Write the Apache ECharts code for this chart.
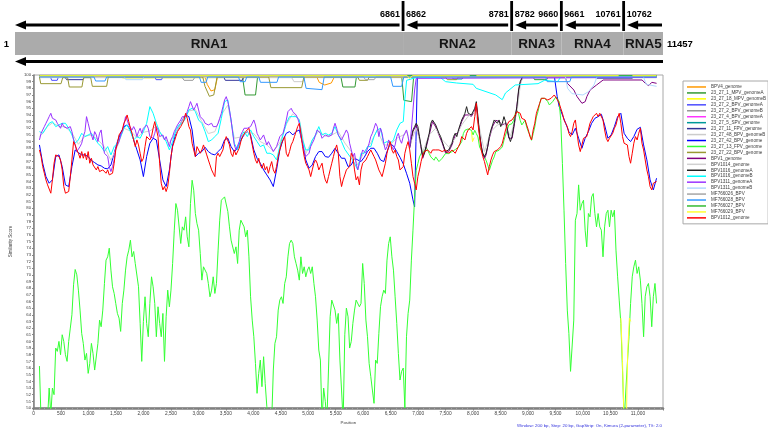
<!DOCTYPE html>
<html><head><meta charset="utf-8">
<script src="https://cdn.jsdelivr.net/npm/echarts@6/dist/echarts.min.js"></script>
<style>html,body{margin:0;padding:0;background:#fff}#c{width:768px;height:433px}</style>
</head><body><div id="c"></div>
<script>
const FONT = '"Liberation Sans", Arial, sans-serif';

// genome map
const segStart = [1, 6862, 8782, 9661, 10762];
const segEnd = [6861, 8781, 9660, 10761, 11457];
const segName = ['RNA1', 'RNA2', 'RNA3', 'RNA4', 'RNA5'];
const genomeLength = 11457;

// sampling positions (bp) of the similarity curves
const positions = [
107,137,166,196,225,255,284,314,343,373,403,432,462,491,521,550,580,610,639,669,
698,728,757,787,816,846,876,905,935,964,994,1023,1053,1082,1112,1142,1171,1201,1230,1260,
1290,1319,1349,1378,1408,1437,1467,1496,1526,1556,1585,1615,1644,1674,1703,1733,1763,1792,1822,1851,
1881,1910,1940,1969,1999,2029,2058,2088,2117,2147,2176,2206,2235,2265,2295,2324,2354,2383,2413,2442,
2472,2501,2531,2561,2590,2620,2649,2679,2708,2738,2768,2797,2827,2856,2886,2915,2945,2974,3004,3034,
3063,3093,3122,3152,3181,3211,3241,3270,3300,3329,3359,3388,3418,3447,3477,3507,3536,3566,3595,3625,
3654,3684,3714,3743,3773,3802,3832,3861,3891,3920,3950,3980,4009,4039,4068,4098,4127,4157,4187,4216,
4246,4275,4305,4334,4364,4393,4423,4453,4482,4512,4541,4571,4600,4630,4659,4689,4719,4748,4778,4807,
4837,4866,4896,4926,4955,4985,5014,5044,5073,5103,5132,5162,5192,5221,5251,5280,5310,5339,5369,5398,
5428,5458,5487,5517,5546,5576,5606,5635,5665,5694,5724,5753,5783,5812,5842,5871,5901,5931,5960,5990,
6019,6049,6078,6108,6138,6167,6197,6226,6256,6285,6315,6344,6374,6404,6433,6463,6492,6522,6551,6581,
6611,6640,6670,6699,6729,6758,6788,6817,6847,6877,6906,6936,6965,6995,7024,7054,7084,7113,7143,7172,
7202,7231,7261,7290,7320,7350,7379,7409,7438,7468,7497,7527,7556,7586,7616,7645,7675,7704,7734,7763,
7793,7823,7852,7882,7911,7941,7970,8000,8030,8059,8089,8118,8148,8177,8207,8236,8266,8296,8325,8355,
8384,8414,8443,8473,8503,8532,8562,8591,8621,8650,8680,8709,8739,8768,8798,8828,8857,8887,8916,8946,
8975,9005,9035,9064,9094,9123,9153,9182,9212,9242,9271,9301,9330,9360,9389,9419,9448,9478,9508,9537,
9567,9596,9626,9655,9685,9715,9744,9774,9803,9833,9862,9892,9921,9951,9981,10010,10040,10069,10099,10128,
10158,10187,10217,10247,10276,10306,10335,10365,10394,10424,10454,10483,10513,10542,10572,10601,10631,10660,10690,10720,
10749,10779,10808,10838,10867,10897,10926,10956,10986,11015,11045,11074,11104,11133,11163,11192,11222,11252,11281,11311,
11340];

// BPV1012_genome (red)
const redA = [
88.75,87.75,86.25,85.25,84.25,83.5,83.25,82.25,84.25,86.75,
88.0,88.0,87.75,87.25,85.75,83.25,82.25,82.0,82.5,84.75,
87.25,90.0,89.5,88.75,88.25,87.5,88.5,87.5,88.25,87.25,
88.5,86.75,87.5,86.5,86.75,85.75,86.25,85.5,85.25,85.75,
85.5,85.25,85.75,85.0,84.75,85.25,86.75,88.75,89.75,91.0,
91.25,91.75,92.75,93.25,94.0,93.0,92.0,91.25,90.25,89.25,
90.25,89.5,88.25,87.0,87.5,89.25,90.75,91.0,90.25,90.75,
92.0,93.0,93.25,90.75,86.75,83.75,82.75,83.25,82.5,83.25,
85.25,87.75,89.25,90.0,90.75,91.5,91.75,92.25,92.5,93.25,
94.25,93.5,92.25,91.75,89.75,88.75,87.75,89.25,89.0,88.25,
88.75,89.5,88.75,88.0,87.25,86.5,85.75,85.25,84.75,87.75,
88.25,87.75,88.0,88.75,90.0,90.75,90.5,89.5,88.25,87.75,
88.75,88.0,88.25,89.0,90.0,90.75,91.0,91.5,91.75,92.0,
90.75,89.5,88.25,87.25,86.75,87.5,86.5,86.0,86.75,85.75,
86.25,85.25,86.25,87.0,85.75,85.25,86.25,87.75,88.75,89.75,
90.25,90.75,88.25,87.75,88.5,89.5,90.0,90.75,91.5,92.25,
92.75,91.25,89.25,87.75,86.75,86.25,85.75,84.75,85.75,86.75,
87.25,86.75,85.75,86.25,86.75,85.25,84.25,83.75,84.75,85.75,
86.75,87.75,88.75,89.5,88.25,84.75,83.25,84.25];
const redB = [
85.0,85.75,86.0,86.25,88.25,87.75,85.75,84.25,84.75,83.5,
85.75,86.75,86.5,87.25,87.75,88.25,88.75,88.5,87.75,87.25,
87.25,85.75,85.25,84.75,84.5,86.75,88.25,89.25,90.0,88.75,
88.25,88.75,87.75,87.25,85.75,85.5,86.25,88.25,89.25,90.0,
88.75,86.75,84.75,83.75,82.75,84.75,85.75,87.0,88.0,88.5,
88.25,88.75,88.5,88.25,88.75,88.5,88.75,88.5,88.75,89.0,
88.5,88.25,88.75,88.5,88.25,88.5,88.75,88.5,88.25,88.75,
89.25,89.75,90.75,91.0,90.25,91.25,91.75,92.0,92.25,91.75,
93.75,95.75,92.75,90.75,88.75,87.75,87.0,86.0,85.0,86.25,
87.25,88.0,88.5,88.75,88.75,89.0,89.25,89.75,90.75,91.75,
92.5,93.0,93.25,93.25,93.5,94.0,94.5,94.75,94.25,93.5,
93.25,93.25,92.5,91.75,90.75,90.25,91.75,92.75,94.25,95.0,
95.75,96.5,96.75,96.5,96.75,96.25,96.0,96.5,96.75,97.0,
96.75,96.25,95.75,95.0,94.25,93.25,92.75,92.25,91.25,90.75,
91.5,92.75,93.25,91.25,89.5,88.5,89.5,90.5,90.25,90.75,
91.75,92.75,93.25,93.75,94.0,94.25,93.75,94.25,94.5,93.25,
91.75,90.5,90.0,90.5,90.75,91.25,92.0,92.5,93.5,94.25,
92.75,90.75,89.75,90.0,89.5,87.75,86.75,88.25,89.75,90.75,
90.25,91.25,92.0,89.75,88.75,87.25,85.75,84.75,83.25,82.75,
83.75,83.5,84.0];

// 23_27_13_FPV_genome (bright green)
const greenA = [
56.3,48,48,48,48,48.5,53,49,53,52,
59,58.5,60,58,61,60,58,57,60,62,
64,68.5,70.8,70,67.7,64.7,61.2,59.7,57.2,58.2,
55.2,56.7,59.7,58.2,55.7,55.7,59.7,63.2,62.2,64.7,
68.7,72.2,72.7,74,70.7,68.2,67.2,65.7,64.2,63.5,
61.5,65.7,67.7,70.7,72.7,73.7,75.2,72.7,73.5,71.7,
71.5,68.2,62.7,57,63,66.7,62.7,60.7,65.7,69.7,
68.2,65.7,60.7,65.2,62.7,60.7,64.2,57,63.7,67.7,
65.2,67.7,71.7,76.7,80.7,79.7,79.7,74.7,77.2,76.7,
78.7,75.7,74.2,80.7,84.2,82.7,79.2,77.7,76.7,73.2,
69.2,71.2,71.2,70.2,68.7,66.7,67.7,69.7,67.2,68.7,
73.7,78.2,81.2,81.5,81.7,81.5,79.5,77.2,75.2,75.2,
73.2,74.2,71.7,76.7,78.2,78.5,77.2,75.7,76.7,72.7,
66.7,63.2,60.7,56.7,52.2,55.2,57.2,53.2,57.7,53.7,
50.2,48,49.7,48,55.7,59.7,60.7,64.7,66.2,66.7,
65.7,68.7,69.7,72.7,74.7,75.2,74.7,72.7,71.7,70.7,
69.2,72.7,70.2,71.2,69.7,70.7,71.2,70.2,71.2,68.7,
66.7,63.2,58.7,57.2,48,53,51,48,56,63.7,
66.2,66.2,64.7,62.7,64.2,57.2,52.7,48];
const greenB = [
61,65,63.7,59,60,62.7,64.7,66.2,66.2,65.2,
65.7,71.7,68.7,63.2,60.7,56.7,54.7,52.7,50.7,57.2,
56.7,61.2,65.2,66.7,67.7,67.2,72.2,74.7,75.7,72.7,
70.7,66.7,62.7,58.2,54.2,55.5,56,50,60.7,64.2,
66.2,72.2,76.7,81.7,85.7,86.7,87.7,88.2,88.7,88.2,
89.2,89.0,88.2,87.7,87.5,87.2,87.7,87.5,87.0,87.2,
87.5,87.2,88.2,88.5,88.2,88.2,88.5,88.7,88.8,89.0,
89.2,89.5,90.0,91.2,91.7,92.0,91.9,92.2,91.7,91.0,
91.7,91.2,90.7,89.2,88.7,88.2,87.7,87.2,86.5,85.7,
86.0,87.2,87.7,88.5,88.7,88.7,88.5,89.2,90.2,91.0,
91.7,92.5,92.7,92.7,93.2,94.2,94.7,94.2,93.2,92.5,
92.7,93.2,92.2,91.5,91.0,90.2,91.2,92.2,93.7,94.5,
95.7,96.5,96.7,96.5,96.2,96.0,95.5,95.2,96.0,96.2,
96.7,96.5,96.0,93.2,86.7,79.7,71.7,64.7,61.2,55.5,
55.7,63.2,78.2,79.2,83.5,79.7,80.7,81.2,76.7,74.2,
79.2,78.7,81.7,82.2,79.2,77.2,79.2,77.2,76.7,72.7,
77.2,79.2,79.7,77.2,79.7,78.7,79.7,73.7,69.7,66.2,
62.7,55.7,48,48,56.7,60.7,65.7,69.7,71.2,72.2,
70.2,71.2,69.2,65.7,60.7,66.7,68.2,68.7,66.7,62.2,
66.7,68.7,65.7];

// BPV1311_genomeA (violet)
const violetA = [
90.25,91.25,91.75,92.25,92.75,93.25,93.75,94.25,93.5,93.75,
93.25,92.75,93.0,92.0,92.75,92.25,92.5,92.0,91.75,92.25,
91.5,90.25,89.5,88.5,88.75,89.25,89.75,90.75,91.5,93.75,
92.75,91.75,91.0,90.25,91.5,91.0,90.0,91.25,91.75,89.75,
88.25,88.5,87.75,86.25,85.5,86.25,87.25,89.0,89.5,90.0,
91.0,91.5,92.5,93.75,93.25,92.5,92.25,91.75,92.25,91.75,
90.75,91.5,92.0,91.25,92.0,91.75,92.5,92.0,90.75,91.0,
90.5,91.25,92.25,91.75,90.75,90.5,91.0,90.25,90.75,90.0,
89.25,90.25,90.75,91.5,92.0,92.5,92.75,93.25,93.75,94.0,
93.75,94.5,95.25,96.0,95.75,94.75,95.25,95.75,94.75,93.75,
93.5,93.25,92.75,93.0,92.5,92.25,92.75,92.25,92.0,92.25,
92.75,93.5,94.25,95.25,96.25,96.75,96.0,94.75,93.25,91.25,
89.5,88.75,89.0,90.0,91.0,91.5,92.0,92.25,92.0,91.75,
92.25,92.75,93.25,92.5,91.25,90.75,90.25,90.5,91.0,90.25,
89.5,90.0,89.75,89.0,88.5,88.75,89.25,90.0,90.75,90.75,
91.25,92.25,93.25,94.5,94.75,95.0,94.5,94.25,94.0,93.5,
92.75,90.75,89.75,88.5,87.75,87.5,88.25,89.25,89.75,90.25,
91.0,91.75,92.0,91.25,90.5,90.25,91.0,91.25,90.75,90.5,
91.0,92.0,92.75,92.0,91.0,90.75,90.25,90.5];
const violetB = [
91.25,91.75,91.25,89.75,88.75,87.75,88.25,86.75,85.75,86.75,
87.75,88.75,88.75,88.25,88.25,89.75,90.75,91.25,92.0,92.75,
92.25,90.75,92.0,91.25,89.75,88.75,89.25,90.25,90.0,89.25,
88.75,89.5,90.75,91.25,90.25,89.75,90.75,91.25,91.75,90.75,
89.25,91.75,94.75,97.75,99.5];
const violetTop = [[6995, 99.65], [11340, 99.65]];

// 23_27_42_BPV_genome (blue)
const blueA = [
89.5,86.75,84.75,83.75,84.25,87.75,88.0,86.25,83.5,83.25,
86.25,88.75,88.35,88.0,88.0,87.75,87.15,86.85,86.5,86.35,
86.0,85.9,86.5,88.25,90.0,91.25,92.25,92.5,91.75,90.25,
88.75,87.25,84.75,87.75,89.75,90.5,90.25,87.25,84.25,83.25,
85.75,89.5,91.25,92.25,93.25,94.0,93.75,91.75,87.75,88.25,
88.5,89.15,88.5,88.15,88.0,88.5,89.0,90.25,90.5,89.25,
88.5,89.0,90.25,91.0,91.5,91.0,88.75,87.5,86.75,85.75,
85.0,84.25,83.25,85.75,88.75,90.25,91.25,91.5,91.0,91.5,
91.75,89.75,87.25,86.0,86.5,87.75,88.5,88.5,87.75,87.65,
88.25,89.0,88.25,87.5];
const blueB = [
87.5,86.25,86.5,87.5,87.25,87.0,87.65,88.5,89.0,89.0,
88.25,87.25,87.0,88.5,89.65,89.35,88.5,87.65,86.65,85.25,
83.75,81.25];
const blueMid = [[6936, 80.2], [6960, 90.0], [6985, 99.8], [9480, 99.8], [9530, 96.8]];
const blueC = [
95.25,94.0,92.75,91.5,91.0,92.0,90.5,89.0,90.5,91.5,
92.75,93.5,93.75,94.1,92.5,90.5,91.0,92.25,93.75,94.25,
91.25,90.5,90.0,90.75,91.85,92.15,89.5,87.25,84.25,82.75,
84.5];

// BPV1016_genomeB (cyan)
const cyanA = [
91.5,91.25,92.0,92.75,93.0,92.25,92.5,92.75,92.75,92.0,
91.0,89.75,90.25,91.25,90.75,91.0,91.25,90.5,89.75,89.25,
88.5,89.25,88.0,89.25,89.75,90.75,92.0,92.5,91.5,90.25,
90.75,90.5,91.5,92.75,95.25,94.25,92.75,91.5,90.75,90.0,
88.75,90.0,91.75,92.5,92.75,93.5,94.75,95.0,94.5,93.25,
92.75,91.5,90.0,90.25,90.75,91.25,93.5,96.0,96.25,93.25,
89.75,88.75,90.75,91.5,90.75,91.75,90.75,90.0,89.25,89.5,
88.25,88.25,88.0,87.25,89.25,91.0,92.75,93.75,93.75,93.75,
93.25,90.25,88.75,88.75,90.25,91.0,92.25,91.0,91.25,91.0,
91.25,92.25,91.0,90.0];
const cyanB = [
88.85,88.15,87.5,86.75,85.75,88.25,88.25,89.25,89.25,90.75,
91.75,92.0,89.75,90.0,89.75,90.25,91.75,92.75,93.0];
const cyanTop = [[6760,96.5],[6790,99.2],[6995,99.7],[7408,99.6],[7500,99.0],[7700,98.8],[8000,98.6],[8058,98.0],[8413,97.0],[8531,96.3],[8590,97.3],[8768,98.5],[9182,98.7],[9300,99.2],[9537,99.0],[9600,99.75],[11340,99.75]];

// BPV1016_genomeA (black), from 6847 bp
const blackV = [
89.25,90.75,91.75,92.25,92.75,92.25,90.75,89.25,87.75,88.25,
89.25,90.25,91.25,92.75,93.25,93.0,92.5,92.25,91.25,90.75,
90.0,89.25,88.5,88.25,88.75,89.25,89.75,90.75,91.25,90.75,
91.75,92.5,93.25,93.75,94.25,95.25,94.25,94.5,94.0,94.25,
95.0,96.0,93.75,91.25,89.25,88.25,87.75,88.25,89.25,90.75,
91.75,92.5,93.25,93.5,92.75,93.25,92.25,92.75,93.75,93.0,
92.0,90.75,90.0,90.75,92.25,93.75,95.25,97.75,99.0];
const blackTop = [[8900, 99.75], [11340, 99.75]];

// BPV1_genome (purple)
const bpv1 = [[6847,89.0],[6906,91.5],[6965,92.5],[7025,90.5],[7084,87.5],[7143,89.0],[7202,91.0],[7261,93.0],[7320,92.2],[7379,91.0],[7438,89.8],[7498,88.3],[7557,88.5],[7616,89.5],[7675,91.0],[7734,91.5],[7793,93.0],[7853,94.0],[7912,94.0],[7971,93.8],[8030,94.7],[8060,95.5],[8119,91.0],[8178,88.0],[8208,87.5],[8237,88.0],[8296,90.5],[8356,92.3],[8415,93.2],[8474,93.0],[8533,92.5],[8592,92.8],[8652,90.5],[8711,90.5],[8770,93.5],[8829,97.5],[8858,98.8],[8900,99.6],[9680,99.6],[9716,98.75],[9834,97.75],[9893,96.75],[9982,95.75],[10041,96.0],[10071,96.75],[10130,97.75],[10248,98.5],[10367,99.25],[11077,99.25],[11136,98.75],[11195,98.4],[11254,98.9],[11340,98.75]];

// BPV1014_genome (light grey)
const bpv1014 = [[107,90.8],[166,91.2],[255,92.3],[343,92.8],[462,92.3],[580,92.2],[698,91.3],[816,89.6],[935,90.8],[1053,91.0],[1171,90.3],[1289,89.2],[1408,87.2],[1526,89.3],[1644,92.0],[1762,91.6],[1881,90.6],[1999,91.4],[2117,91.6],[2235,92.3],[2354,90.6],[2472,89.8],[2590,91.3],[2708,93.2],[2827,94.6],[2945,94.8],[3063,93.0],[3181,91.2],[3300,91.5],[3418,94.0],[3536,95.5],[3654,90.5],[3773,90.7],[3891,91.4],[4009,91.2],[4127,90.0],[4246,89.5],[4364,88.6],[4482,89.8],[4600,92.6],[4719,94.2],[4837,93.3],[4955,88.2],[5073,90.2],[5192,91.6],[5310,90.8],[5428,91.0],[5546,91.5],[5665,89.8],[5783,88.5],[5901,86.5],[6019,88.5],[6138,89.8],[6256,91.8],[6374,89.5],[6492,89.5],[6611,90.5],[6729,91.0],[6800,91.5],[6847,89.5],[6965,92.0],[7084,88.5],[7202,91.0],[7320,92.0],[7438,90.3],[7557,89.2],[7675,90.5],[7793,92.5],[7911,93.8],[8030,94.5],[8118,92.0],[8207,88.5],[8325,91.5],[8443,92.5],[8562,92.8],[8680,90.8],[8800,94.5],[8860,98.5],[8900,99.6],[11340,99.6]];

// series near the top of the scale
const bpv4 = [[107,99.8],[3120,99.8],[3160,98.6],[3230,97.6],[3300,97.8],[3350,99.8],[5150,99.8],[5200,98.9],[5300,98.5],[5420,98.8],[5480,99.8],[11340,99.8]];
const mpv1A = [[107,99.9],[3800,99.9],[3850,97.0],[4040,97.0],[4080,99.9],[5590,99.9],[5630,98.2],[5850,98.2],[5880,99.9],[6700,99.9],[6740,96.2],[6880,96.0],[6920,99.9],[9080,99.9],[9120,99.3],[9340,99.3],[9380,99.9],[11340,99.9]];
const mpv18B = [[107,99.85],[1470,99.85],[1500,99.55],[1640,99.55],[1670,99.85],[11340,99.85]];
const bpv2A = [[107,99.9],[300,99.9],[330,99.2],[430,99.2],[460,99.9],[2200,99.9],[2230,99.3],[2330,99.3],[2360,99.9],[11340,99.9]];
const bpv2B = [[107,99.7],[2700,99.7],[2740,99.2],[2900,99.2],[2940,99.7],[11340,99.7]];
const bpv4A = [[107,99.95],[11340,99.95]];
const spv5 = [[107,99.9],[7600,99.9],[7640,99.4],[7800,99.4],[7840,99.9],[11340,99.9]];
const fpv11 = [[107,99.9],[560,99.9],[600,99.3],[900,99.3],[940,99.9],[3450,99.9],[3490,99.2],[3800,99.2],[3840,99.9],[10200,99.9],[10240,99.5],[10900,99.5],[10940,99.9],[11340,99.9]];
const bpv48B = [[107,99.6],[4700,99.6],[4740,99.0],[4900,99.0],[4940,99.6],[11340,99.6]];
const bpv22 = [[107,99.7],[130,98.7],[500,98.7],[530,99.6],[620,99.6],[650,98.2],[880,98.2],[910,99.6],[1040,99.6],[1070,98.3],[1330,98.3],[1360,99.7],[3080,99.7],[3120,98.3],[3200,96.8],[3280,97.0],[3340,99.7],[4280,99.7],[4320,98.1],[4880,98.1],[4920,99.7],[5900,99.7],[5930,99.2],[6080,99.2],[6110,99.7],[7500,99.7],[7530,99.3],[7700,99.3],[7730,99.7],[11340,99.7]];
const bpv1311B = [[107,99.8],[1650,99.8],[1680,99.3],[1980,99.3],[2010,99.8],[9680,99.8],[9720,98.0],[9800,97.2],[10000,97.0],[10100,97.5],[10200,98.5],[10260,99.8],[11100,99.8],[11150,98.6],[11340,98.3]];
const mf26 = [[107,99.8],[6000,99.8],[6040,99.3],[6200,99.3],[6240,99.8],[11340,99.8]];
const mf28 = [[107,99.7],[1100,99.7],[1130,99.1],[1300,99.1],[1330,99.7],[3020,99.7],[3050,98.9],[3140,98.9],[3170,99.7],[3730,99.7],[3760,99.0],[3850,99.0],[3880,99.7],[4100,99.7],[4130,98.9],[4430,98.9],[4460,99.7],[4920,99.7],[4960,98.0],[5250,97.8],[5290,99.7],[6500,99.7],[6540,98.3],[6700,98.3],[6740,99.7],[9320,99.7],[9350,99.0],[9760,99.0],[9790,99.7],[11340,99.7]];
const mf27 = [[107,99.95],[11340,99.95]];
const mf29 = [[107,99.9],[6800,99.9],[6840,99.5],[6900,99.9],[7940,99.9],[7960,'-'],[7970,91.5],[7990,90.0],[8020,90.6],[8040,'-'],[8060,99.9],[10650,99.9],[10670,'-'],[10690,63.5],[10720,57.0],[10745,49.0],[10790,48.0],[10815,58.5],[10845,63.5],[10870,63.0],[10880,'-'],[10900,99.9],[11340,99.9]];

const names = ['BPV4_genome','23_27_1_MPV_genomeA','23_27_18_MPV_genomeB','23_27_2_BPV_genomeA','23_27_2_BPV_genomeB','23_27_4_BPV_genomeA','23_27_5_SPV_genome','23_27_11_FPV_genome','23_27_48_BPV_genomeB','23_27_42_BPV_genome','23_27_13_FPV_genome','23_27_22_BPV_genome','BPV1_genome','BPV1014_genome','BPV1016_genomeA','BPV1016_genomeB','BPV1311_genomeA','BPV1311_genomeB','MF766026_BPV','MF766028_BPV','MF766027_BPV','MF766029_BPV','BPV1012_genome'];
const colors = ['#ff9900','#339933','#ffff00','#4d4dff','#999999','#ff33ff','#009999','#333399','#cccccc','#0000ff','#33ff33','#999933','#800080','#d0d0d0','#222222','#00ffff','#9933ff','#b3d9ff','#a6a6a6','#3399ff','#33bb33','#ffff33','#ff0000'];

function onGrid(vals, k0, step) { return vals.map((v, i) => [positions[k0 + i * step], v]); }

const seriesData = [
  bpv4, mpv1A, mpv18B, bpv2A, bpv2B, bpv4A, spv5, fpv11, bpv48B,
  onGrid(blueA, 0, 2).concat(onGrid(blueB, 188, 2), blueMid, onGrid(blueC, 320, 2)),
  onGrid(greenA, 0, 1).concat(onGrid(greenB, 188, 1)),
  bpv22, bpv1, bpv1014,
  onGrid(blackV, 228, 1).concat(blackTop),
  onGrid(cyanA, 0, 2).concat(onGrid(cyanB, 188, 2), cyanTop),
  onGrid(violetA, 0, 1).concat(onGrid(violetB, 188, 1), violetTop),
  bpv1311B, mf26, mf28, mf27, mf29,
  onGrid(redA, 0, 1).concat(onGrid(redB, 188, 1))
];

const lineSeries = names.map((n, i) => ({
  name: n, type: 'line', xAxisIndex: 0, yAxisIndex: 0,
  data: seriesData[i], showSymbol: false, symbol: 'none',
  lineStyle: { color: colors[i], width: 1 }, itemStyle: { color: colors[i] },
  connectNulls: false, clip: true, silent: true
}));

const mapSeries = {
  type: 'custom', xAxisIndex: 1, yAxisIndex: 1, silent: true, clip: false,
  data: segStart.map((s, i) => [s, segEnd[i], i]),
  renderItem: function (params, api) {
    const s = api.value(0), e = api.value(1), i = api.value(2);
    const X = v => api.coord([v, 0])[0];
    const Y = v => api.coord([1, v])[1];
    const last = segName.length - 1;
    const x0 = X(s - 0.5), x1 = X(e + 0.5);
    const ch = [];
    ch.push({ type: 'rect', shape: { x: x0, y: Y(32), width: x1 - x0, height: Y(55) - Y(32) }, style: { fill: '#ababab' } });
    ch.push({ type: 'text', style: { text: segName[i], x: (x0 + x1) / 2, y: Y(44), align: 'center', verticalAlign: 'middle', font: 'bold 13.5px ' + FONT, fill: '#151515' } });
    const ay = Y(25);
    const ax = x0 + (i > 0 ? 3.5 : 0);
    const bx = i < last ? x1 - 3.5 : x1 - 1;
    ch.push({ type: 'line', shape: { x1: ax + 8, y1: ay, x2: bx, y2: ay }, style: { stroke: '#000', lineWidth: 3 } });
    ch.push({ type: 'polygon', shape: { points: [[ax, ay], [ax + 11, ay - 4.5], [ax + 11, ay + 4.5]] }, style: { fill: '#000' } });
    if (i < last) {
      ch.push({ type: 'rect', shape: { x: x1 - 1.4, y: Y(1), width: 2.8, height: Y(31) - Y(1) }, style: { fill: '#000' } });
      ch.push({ type: 'text', style: { text: String(e), x: x1 - 3, y: Y(15), align: 'right', verticalAlign: 'middle', font: 'bold 9px ' + FONT, fill: '#000' } });
    }
    if (i > 0) {
      ch.push({ type: 'text', style: { text: String(s), x: x0 + 3, y: Y(15), align: 'left', verticalAlign: 'middle', font: 'bold 9px ' + FONT, fill: '#000' } });
    }
    if (i === 0) {
      ch.push({ type: 'text', style: { text: String(s), x: x0 - 6, y: Y(44), align: 'right', verticalAlign: 'middle', font: 'bold 9.5px ' + FONT, fill: '#000' } });
      const gx0 = X(0.5), gx1 = X(genomeLength + 0.5), gy = Y(61.5);
      ch.push({ type: 'line', shape: { x1: gx0 + 8, y1: gy, x2: gx1, y2: gy }, style: { stroke: '#000', lineWidth: 3 } });
      ch.push({ type: 'polygon', shape: { points: [[gx0, gy], [gx0 + 11, gy - 4.5], [gx0 + 11, gy + 4.5]] }, style: { fill: '#000' } });
    }
    if (i === last) {
      ch.push({ type: 'text', style: { text: String(e), x: x1 + 4, y: Y(44), align: 'left', verticalAlign: 'middle', font: 'bold 9.5px ' + FONT, fill: '#000' } });
    }
    return { type: 'group', children: ch };
  }
};

const chart = echarts.init(document.getElementById('c'), null, { renderer: 'canvas' });
chart.setOption({
  animation: false,
  backgroundColor: '#ffffff',
  textStyle: { fontFamily: FONT },
  grid: [
    { left: 17, top: 75, width: 646, height: 333, show: true, borderColor: '#a8a8a8', borderWidth: 1, backgroundColor: 'transparent' },
    { left: 15, top: 0, width: 648, height: 70 }
  ],
  xAxis: [
    { type: 'value', gridIndex: 0, min: 0, max: genomeLength, interval: 500,
      name: 'Position', nameLocation: 'middle', nameGap: 13,
      nameTextStyle: { fontSize: 4.4, color: '#404040', fontFamily: FONT },
      axisLine: { show: true, lineStyle: { color: '#808080', width: 2.5 } },
      axisTick: { show: true, length: 2.5, lineStyle: { color: '#808080' } },
      minorTick: { show: true, splitNumber: 5, length: 1.5, lineStyle: { color: '#a0a0a0' } },
      splitLine: { show: false },
      axisLabel: { fontSize: 4.8, color: '#404040', margin: 3, showMaxLabel: false, fontFamily: FONT,
        formatter: v => v.toLocaleString('en-US') } },
    { type: 'value', gridIndex: 1, min: 0.5, max: genomeLength + 0.5, show: false }
  ],
  yAxis: [
    { type: 'value', gridIndex: 0, min: 50, max: 100, interval: 1,
      name: 'Similarity Score', nameLocation: 'middle', nameGap: 16, nameRotate: 90,
      nameTextStyle: { fontSize: 4.5, color: '#404040', fontFamily: FONT },
      axisLine: { show: true, lineStyle: { color: '#808080', width: 1.5 } },
      axisTick: { show: true, length: 1.5, lineStyle: { color: '#808080' } },
      splitLine: { show: false },
      axisLabel: { fontSize: 4.3, color: '#404040', margin: 2.5, fontFamily: FONT } },
    { type: 'value', gridIndex: 1, min: 0, max: 70, inverse: true, show: false }
  ],
  legend: {
    data: names, orient: 'vertical', left: 683, top: 81,
    itemWidth: 19, itemHeight: 1.5, itemGap: 0, icon: 'rect',
    padding: [3, 2, 3, 4], borderColor: '#a8a8a8', borderWidth: 1,
    selectedMode: false,
    textStyle: { fontSize: 4.6, lineHeight: 5.95, color: '#404040', fontFamily: FONT }
  },
  graphic: [
    { type: 'text', right: 106, top: 424, silent: true,
      style: { text: 'Window: 200 bp, Step: 20 bp, GapStrip: On, Kimura (2-parameter), T/t: 2.0', fill: '#3333dd', font: '4.4px ' + FONT } }
  ],
  series: lineSeries.concat([mapSeries])
});
</script>
</body></html>
